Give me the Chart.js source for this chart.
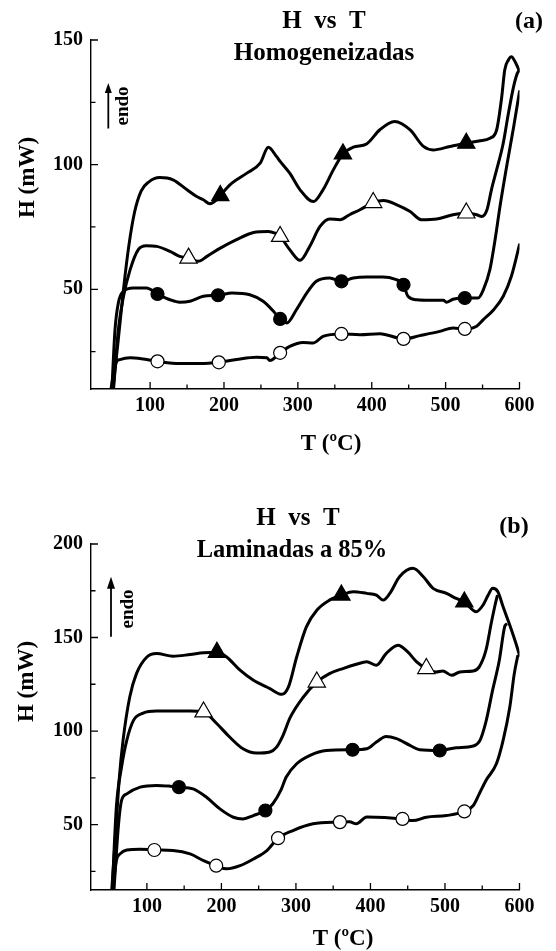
<!DOCTYPE html>
<html>
<head>
<meta charset="utf-8">
<script src="https://cdn.jsdelivr.net/npm/chart.js@4.4.1/dist/chart.umd.min.js"></script>
<style>
  html, body { margin: 0; padding: 0; background: #fff; }
  #wrap { position: relative; width: 556px; height: 951px; }
  canvas { position: absolute; left: 0; }
  #chartA { top: 0; }
  #chartB { top: 470px; }
</style>
</head>
<body>
<div id="wrap">
  <canvas id="chartA" width="556" height="470"></canvas>
  <canvas id="chartB" width="556" height="481"></canvas>
</div>
<script>
const FONT = '"Liberation Serif", "Times New Roman", serif';

// ---- (a) Homogeneizadas ----
const aTicksX = [100, 200, 300, 400, 500, 600];
const aMinorX = [150, 250, 350, 450, 550];
const aTicksY = [50, 100, 150];
const aMinorY = [25, 75, 125];

// filled triangles
const aFtT = [49, 57, 64, 71, 79, 88, 98, 113, 131, 150, 163, 172, 181, 190, 195, 208, 231, 249, 260, 271, 276, 289, 303, 321, 334, 348, 361, 375, 393, 411, 431, 452, 470, 483, 506, 528, 545, 560, 569, 576, 580, 585, 589, 594, 600];
const aFtH = [8, 30, 50, 67, 81, 89.5, 93, 94.8, 93.9, 89.9, 87.2, 85.9, 84.3, 85.9, 87.6, 91.9, 96.6, 100.6, 107, 103.3, 101.3, 96.6, 89.9, 85.2, 89.9, 97.9, 104.3, 107, 108.3, 114, 117.3, 113.9, 107.3, 105.9, 107.3, 108.6, 109.5, 110.6, 113.9, 127.3, 138, 142, 143.3, 141.3, 137.5];
const aFtMarkT = [195, 361, 528];
const aFtMarkH = [87.6, 104.3, 108.6];

// open triangles
const aOtT = [50, 57, 64, 73, 84, 95, 109, 127, 140, 152, 165, 177, 195, 217, 240, 260, 269, 276, 289, 303, 316, 330, 343, 357, 370, 384, 402, 416, 434, 452, 467, 488, 510, 528, 542, 549, 556, 562, 569, 578, 585, 592, 597, 600];
const aOtH = [8, 33.8, 47.2, 57.9, 65.9, 67.5, 67.2, 65.2, 63.2, 62.5, 61.2, 63.2, 66.5, 69.9, 72.8, 73.2, 72.5, 71.2, 65.9, 61.6, 67.2, 75.2, 78.2, 77.9, 79.9, 81.9, 84.8, 85.6, 83.9, 81.2, 77.9, 78.2, 79.9, 80.6, 79.9, 79.2, 81.9, 89.9, 97.9, 108.6, 120.6, 131.3, 136.6, 138];
const aOtMarkT = [152, 276, 402, 528];
const aOtMarkH = [62.5, 71.2, 84.8, 80.6];

// filled circles
const aFcT = [48, 52.5, 57, 64, 77, 95, 110, 127, 140, 154, 172, 192, 211, 235, 253, 267, 276, 285, 298, 312, 325, 343, 359, 375, 393, 415, 431, 443, 449, 461, 479, 497, 501, 510, 526, 544, 551, 560, 567, 574, 583, 592, 600];
const aFcH = [8, 33.8, 44.5, 49.2, 50.5, 50.5, 48.1, 45.8, 44.8, 45.2, 47.2, 47.6, 48.5, 47.8, 45.2, 41.2, 38.1, 36.5, 41.8, 48.5, 53.2, 54.5, 53.2, 54.5, 54.9, 54.9, 54.1, 51.8, 47.2, 45.8, 45.6, 45.6, 44.8, 46, 46.5, 46.5, 49.8, 58, 70, 84, 100, 115, 129.3];
const aFcMarkT = [110, 192, 276, 359, 443, 526];
const aFcMarkH = [48.1, 47.6, 38.1, 53.2, 51.8, 46.5];

// open circles
const aOcT = [46, 51, 55, 59, 73, 91, 110, 140, 168, 193, 217, 244, 258, 262, 276, 289, 307, 321, 334, 359, 384, 411, 443, 465, 492, 510, 526, 542, 551, 565, 578, 589, 600];
const aOcH = [8, 17, 21.1, 21.8, 22.5, 22, 21.1, 20.2, 20.2, 20.7, 21.8, 22.7, 22.5, 21.4, 24.5, 27.1, 28.7, 28.5, 31.1, 32.1, 31.8, 32.2, 30.1, 31.4, 33.1, 34.5, 34.1, 35.2, 37.8, 41.8, 47.2, 55.2, 67.9];
const aOcMarkT = [110, 193, 276, 359, 443, 526];
const aOcMarkH = [21.1, 20.7, 24.5, 32.1, 30.1, 34.1];

// ---- (b) Laminadas a 85% ----
const bTicksX = [100, 200, 300, 400, 500, 600];
const bMinorX = [150, 250, 350, 450, 550];
const bTicksY = [50, 100, 150, 200];
const bMinorY = [25, 75, 125, 175];

const bFtT = [52, 58, 63, 68, 77, 86, 100, 113, 135, 158, 176, 194, 207, 225, 243, 265, 281, 290, 301, 314, 328, 345, 361, 377, 395, 408, 417, 426, 439, 457, 471, 484, 502, 515, 526, 542, 551, 558, 564, 571, 578, 587, 596, 600];
const bFtH = [10, 45, 75, 95, 118.2, 130.7, 139.6, 141.4, 140, 140.9, 141.8, 142.1, 139.6, 132.5, 127.1, 122.7, 119.6, 123.6, 139.6, 155.7, 164.6, 170, 172.7, 174.5, 173.6, 172.7, 170, 173.6, 182.5, 187, 182.5, 176.3, 173.6, 170.9, 169, 163.8, 167.3, 172.7, 176.3, 174.5, 166.4, 156.6, 145.9, 140.5];
const bFtMarkT = [194, 361, 526];
const bFtMarkH = [142.1, 172.7, 169];

const bOtT = [53, 59, 66, 73, 82, 95, 113, 135, 158, 176, 194, 211, 229, 247, 265, 274, 283, 292, 310, 328, 345, 363, 381, 395, 408, 421, 437, 450, 462, 475, 488, 497, 509, 520, 538, 546, 555, 562, 567, 570];
const bOtH = [10, 59.3, 80.7, 95, 105.7, 109.6, 110.7, 110.7, 110.7, 110.2, 103.9, 96.8, 90.5, 88.2, 88.8, 91.4, 98, 107, 118.2, 126.2, 130.7, 133.4, 135.7, 137, 135.2, 141.4, 145.9, 142.3, 137, 133.4, 131.6, 132.1, 129.8, 131.6, 132.1, 134.3, 143.2, 157.5, 167, 172];
const bOtMarkT = [176, 328, 475];
const bOtMarkH = [110.2, 126.2, 133.4];

const bFcT = [55, 62, 66, 73, 91, 113, 131, 143, 162, 180, 198, 216, 229, 243, 259, 269, 280, 287, 301, 319, 341, 376, 395, 408, 421, 435, 453, 466, 493, 515, 538, 547, 555, 564, 573, 580, 582];
const bFcH = [10, 50.4, 62.9, 66.4, 70, 70.9, 70.5, 70, 69.1, 64.6, 58.4, 53.9, 53, 54.8, 57.5, 61.1, 68.5, 75.4, 82.5, 87, 89.6, 90, 90.5, 94.1, 97.1, 95.9, 92.3, 90, 89.6, 91.1, 92, 95, 105, 122, 138, 155.7, 157];
const bFcMarkT = [143, 259, 376, 493];
const bFcMarkH = [70, 57.5, 90, 89.6];

const bOcT = [53, 59, 64, 73, 91, 110, 135, 158, 176, 193, 207, 225, 243, 261, 276, 296, 323, 359, 372, 381, 395, 443, 457, 475, 502, 526, 538, 546, 555, 569, 578, 587, 593, 597.5];
const bOcH = [10, 30.7, 34.3, 36.4, 36.8, 36.4, 36.1, 34.3, 30.7, 28, 26.3, 28, 31.6, 36.1, 42.7, 46.8, 50.4, 51.3, 51.5, 50.4, 54, 53, 52.1, 53.9, 54.8, 57, 60.2, 66.4, 73.6, 82.5, 95, 112.9, 130.7, 140];
const bOcMarkT = [110, 193, 276, 359, 443, 526];
const bOcMarkH = [36.4, 28, 42.7, 51.3, 53, 57];

// ---- helpers ----
const pts = (ts, hs) => ts.map((t, i) => ({ x: t, y: hs[i] }));

function lineSet(ts, hs) {
    return {
        data: pts(ts, hs),
        showLine: true,
        borderColor: "#000",
        borderWidth: 3,
        borderJoinStyle: "round",
        borderCapStyle: "round",
        pointRadius: 0,
        cubicInterpolationMode: "monotone",
        order: 1
    };
}

function markSet(ts, hs, style, filled) {
    return {
        data: pts(ts, hs),
        showLine: false,
        pointStyle: style,
        pointRadius: style === "triangle" ? 10 : 6.5,
        pointBackgroundColor: filled ? "#000" : "#fff",
        pointBorderColor: "#000",
        pointBorderWidth: 1.2,
        order: 0
    };
}

// inward major / minor tick marks, placed through the scales
function tickPlugin(cfg) {
    return {
        id: "inwardTicks",
        afterDraw(chart) {
            const { ctx, chartArea: a, scales: { x, y } } = chart;
            ctx.save();
            ctx.strokeStyle = "#000";
            ctx.lineWidth = 1.3;
            ctx.beginPath();
            cfg.xMajor.forEach(v => { const p = x.getPixelForValue(v); ctx.moveTo(p, a.bottom); ctx.lineTo(p, a.bottom - 7); });
            cfg.xMinor.forEach(v => { const p = x.getPixelForValue(v); ctx.moveTo(p, a.bottom); ctx.lineTo(p, a.bottom - 4.5); });
            cfg.yMajor.forEach(v => { const p = y.getPixelForValue(v); ctx.moveTo(a.left, p); ctx.lineTo(a.left + 7, p); });
            cfg.yMinor.forEach(v => { const p = y.getPixelForValue(v); ctx.moveTo(a.left, p); ctx.lineTo(a.left + 4.5, p); });
            ctx.stroke();
            ctx.restore();
        }
    };
}

// titles, axis titles, "endo" arrow
function notesPlugin(cfg) {
    return {
        id: "notes",
        afterDraw(chart) {
            const ctx = chart.ctx;
            ctx.save();
            ctx.fillStyle = "#000";
            ctx.strokeStyle = "#000";
            cfg.texts.forEach(n => {
                ctx.save();
                ctx.font = `bold ${n.size}px ${FONT}`;
                ctx.textAlign = "center";
                ctx.textBaseline = "alphabetic";
                ctx.translate(n.x, n.y);
                if (n.rot) ctx.rotate(-Math.PI / 2);
                ctx.fillText(n.text, 0, 0);
                ctx.restore();
            });
            const ar = cfg.arrow;
            ctx.lineWidth = 1.8;
            ctx.beginPath();
            ctx.moveTo(ar.x, ar.y0);
            ctx.lineTo(ar.x, ar.y1 + ar.head - 1);
            ctx.stroke();
            ctx.beginPath();
            ctx.moveTo(ar.x, ar.y1);
            ctx.lineTo(ar.x - ar.half, ar.y1 + ar.head);
            ctx.lineTo(ar.x + ar.half, ar.y1 + ar.head);
            ctx.closePath();
            ctx.fill();
            ctx.restore();
        }
    };
}

function makeChart(id, cfg) {
    const tickFont = { family: FONT, size: 20, weight: "bold" };
    return new Chart(document.getElementById(id), {
        type: "scatter",
        data: { datasets: cfg.datasets },
        options: {
            responsive: false,
            animation: false,
            devicePixelRatio: 1,
            layout: { padding: { left: 0, top: cfg.top, right: 36.5, bottom: 0 } },
            plugins: {
                legend: { display: false },
                tooltip: { enabled: false }
            },
            scales: {
                x: {
                    type: "linear",
                    min: cfg.xMin,
                    max: 600,
                    afterBuildTicks: s => { s.ticks = cfg.xMajor.map(v => ({ value: v })); },
                    afterFit: s => { s.height = cfg.xHeight; },
                    grid: { display: true, drawOnChartArea: false, drawTicks: false },
                    border: { color: "#000", width: 1.4 },
                    ticks: { color: "#000", font: tickFont, padding: 5, maxRotation: 0, autoSkip: false }
                },
                y: {
                    type: "linear",
                    min: cfg.yMin,
                    max: cfg.yMax,
                    afterBuildTicks: s => { s.ticks = cfg.yMajor.map(v => ({ value: v })); },
                    afterFit: s => { s.width = 91; },
                    grid: { display: true, drawOnChartArea: false, drawTicks: false },
                    border: { color: "#000", width: 1.4 },
                    ticks: { color: "#000", font: tickFont, padding: 8, autoSkip: false }
                }
            }
        },
        plugins: [tickPlugin(cfg), notesPlugin(cfg)]
    });
}

makeChart("chartA", {
    top: 40, xHeight: 81, xMin: 20, yMin: 10, yMax: 150,
    xMajor: aTicksX, xMinor: aMinorX, yMajor: aTicksY, yMinor: aMinorY,
    datasets: [
        markSet(aFtMarkT, aFtMarkH, "triangle", true),
        markSet(aOtMarkT, aOtMarkH, "triangle", false),
        markSet(aFcMarkT, aFcMarkH, "circle", true),
        markSet(aOcMarkT, aOcMarkH, "circle", false),
        lineSet(aFtT, aFtH),
        lineSet(aOtT, aOtH),
        lineSet(aFcT, aFcH),
        lineSet(aOcT, aOcH)
    ],
    texts: [
        { text: "H  vs  T", x: 324, y: 27.5, size: 25 },
        { text: "Homogeneizadas", x: 324, y: 59.5, size: 25 },
        { text: "(a)", x: 529, y: 28, size: 24 },
        { text: "T (ºC)", x: 331, y: 450, size: 23 },
        { text: "H (mW)", x: 34, y: 177.5, size: 23, rot: true },
        { text: "endo", x: 128, y: 106, size: 19, rot: true }
    ],
    arrow: { x: 108.3, y0: 128.5, y1: 83, head: 10, half: 3.5 }
});

makeChart("chartB", {
    top: 74, xHeight: 61, xMin: 25, yMin: 15, yMax: 200,
    xMajor: bTicksX, xMinor: bMinorX, yMajor: bTicksY, yMinor: bMinorY,
    datasets: [
        markSet(bFtMarkT, bFtMarkH, "triangle", true),
        markSet(bOtMarkT, bOtMarkH, "triangle", false),
        markSet(bFcMarkT, bFcMarkH, "circle", true),
        markSet(bOcMarkT, bOcMarkH, "circle", false),
        lineSet(bFtT, bFtH),
        lineSet(bOtT, bOtH),
        lineSet(bFcT, bFcH),
        lineSet(bOcT, bOcH)
    ],
    texts: [
        { text: "H  vs  T", x: 298, y: 55, size: 25 },
        { text: "Laminadas a 85%", x: 292, y: 87, size: 24.5 },
        { text: "(b)", x: 514, y: 63, size: 24 },
        { text: "T (ºC)", x: 343, y: 475, size: 23 },
        { text: "H (mW)", x: 33, y: 211.5, size: 23, rot: true },
        { text: "endo", x: 133, y: 139, size: 19, rot: true }
    ],
    arrow: { x: 111, y0: 166.7, y1: 106.7, head: 12, half: 4 }
});
</script>
</body>
</html>
